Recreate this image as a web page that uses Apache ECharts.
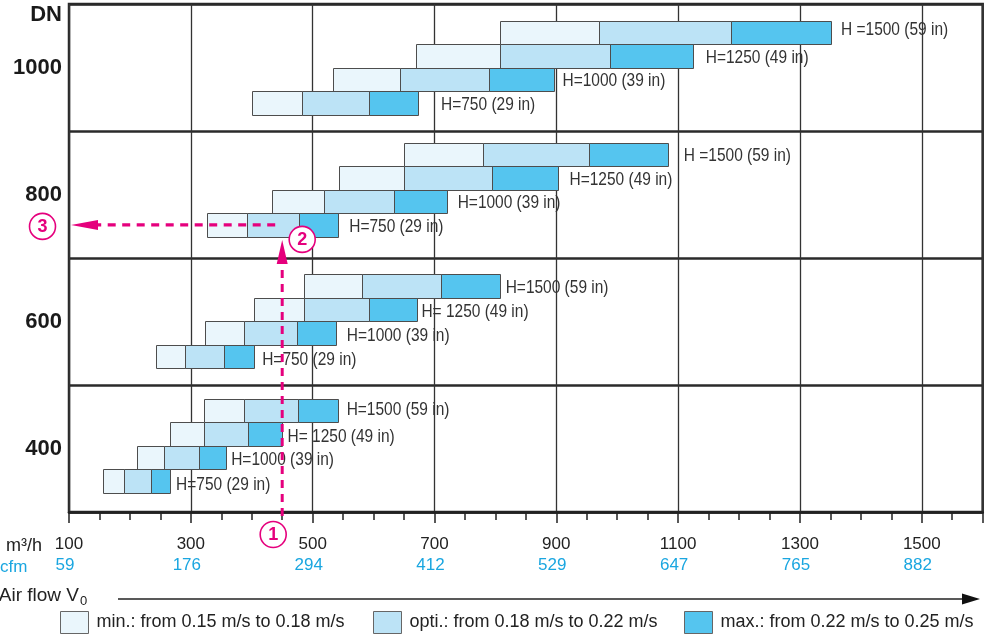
<!DOCTYPE html>
<html><head><meta charset="utf-8">
<script src="https://cdn.jsdelivr.net/npm/echarts@6/dist/echarts.min.js"></script>
<style>html,body{margin:0;padding:0;background:#fff;overflow:hidden}#c{width:990px;height:639px}</style>
</head><body><div id="c"></div>
<script>
// ---------- DATA (m3/h) ----------
// each row: [min from, min->opti, opti->max, max to]; rows ordered H=750, 1000, 1250, 1500
const dnCategories = ['400', '600', '800', '1000'];
const dn400  = [[156,190,234,266],[211,256,314,358],[266,321,394,449],[321,388,476,541]];
const dn600  = [[243,291,355,404],[323,388,474,538],[404,485,592,672],[485,581,710,807]];
const dn800  = [[326,392,477,542],[433,519,634,720],[543,650,795,902],[650,780,953,1083]];
const dn1000 = [[401,483,592,673],[534,644,789,897],[670,807,988,1124],[807,970,1187,1351]];
const labels400  = ['H=750 (29 in)', 'H=1000 (39 in)', 'H= 1250 (49 in)', 'H=1500 (59 in)'];
const labels600  = ['H=750 (29 in)', 'H=1000 (39 in)', 'H= 1250 (49 in)', 'H=1500 (59 in)'];
const labels800  = ['H=750 (29 in)', 'H=1000 (39 in)', 'H=1250 (49 in)', 'H =1500 (59 in)'];
const labels1000 = ['H=750 (29 in)', 'H=1000 (39 in)', 'H=1250 (49 in)', 'H =1500 (59 in)'];
const m3hTicks = [100, 300, 500, 700, 900, 1100, 1300, 1500];
const cfmTicks = [59, 176, 294, 412, 529, 647, 765, 882];
const legendNames = ['min.: from 0.15 m/s to 0.18 m/s', 'opti.: from 0.18 m/s to 0.22 m/s', 'max.: from 0.22 m/s to 0.25 m/s'];
const exampleFlow = 450;   // m3/h, worked example (1)
const exampleDN = 2;       // index of DN 800
const exampleRow = 0;      // H=750

// ---------- LAYOUT / STYLE ----------
const bandPad = [0.152, 0.131, 0.168, 0.128];
const rowH = 0.185;
const labelDx = [[6,5,6,9],[8,11,4,6],[11,11,12,16],[23,8,13,10]];
const labelDy = [[4,2.3,2.7,0],[3.8,2.7,2.5,1.5],[2,1.5,2.5,1.5],[2,1.5,2,-2]];
const segColors = ['#eaf6fc', '#bce3f6', '#55c5ef'];
const magenta = '#e5007d';
const blue = '#1aa6e0';
const reg = '"Liberation Sans",Arial,sans-serif';

const allRows = [dn400, dn600, dn800, dn1000];
const allLabels = [labels400, labels600, labels800, labels1000];

const segData = [[], [], []];
const labelData = [];
allRows.forEach((rows, b) => rows.forEach((r, i) => {
  for (let k = 0; k < 3; k++) segData[k].push([r[k], r[k + 1], b, i]);
  labelData.push([r[3], b, i]);
}));

function crisp(v) { return Math.round(v) + 0.5; }

function renderSeg(params, api) {
  const x0 = api.value(0), x1 = api.value(1), b = api.value(2), r = api.value(3);
  const yLo = b + bandPad[b] + r * rowH, yHi = yLo + rowH;
  const p0 = api.coord([x0, yHi]), p1 = api.coord([x1, yLo]);
  const X0 = crisp(p0[0]), Y0 = crisp(p0[1]), X1 = crisp(p1[0]), Y1 = crisp(p1[1]);
  return { type: 'rect', shape: { x: X0, y: Y0, width: X1 - X0, height: Y1 - Y0 },
    style: { fill: api.visual('color'), stroke: '#4d4d4d', lineWidth: 1 } };
}
function renderLabel(params, api) {
  const x = api.value(0), b = api.value(1), r = api.value(2);
  const yc = b + bandPad[b] + (r + 0.5) * rowH;
  const p = api.coord([x, yc]);
  return { type: 'text', x: p[0] + labelDx[b][r], y: p[1] + labelDy[b][r], scaleX: 0.86,
    style: { text: allLabels[b][r], fontSize: 18, fontFamily: reg, fill: '#333', align: 'left', verticalAlign: 'middle' } };
}

const chart = echarts.init(document.getElementById('c'), null, { renderer: 'canvas' });
const series = segData.map((d, k) => ({
  name: legendNames[k], type: 'custom', coordinateSystem: 'cartesian2d', xAxisIndex: 0, yAxisIndex: 0,
  renderItem: renderSeg, itemStyle: { color: segColors[k] }, encode: { x: [0, 1], y: 2 }, data: d, z: 3
}));
series.push({ name: 'labels', type: 'custom', coordinateSystem: 'cartesian2d', xAxisIndex: 0, yAxisIndex: 0,
  renderItem: renderLabel, encode: { x: 0, y: 1 }, data: labelData, z: 4, silent: true });

chart.setOption({
  animation: false,
  grid: { left: 69, right: 7.3, top: 4, bottom: 127, show: true, borderColor: '#2a2a2a', borderWidth: 2.5, backgroundColor: 'transparent' },
  legend: legendNames.map((n, i) => ({
    data: [n], left: [55, 368, 679][i], top: 606, itemWidth: 28, itemHeight: 22, icon: 'rect', selectedMode: false,
    itemStyle: { borderColor: '#666', borderWidth: 1 },
    textStyle: { fontSize: 18, color: '#222', fontFamily: reg, padding: [0, 0, 0, 3] }
  })),
  xAxis: [
    { type: 'value', min: 100, max: 1600, interval: 50, position: 'bottom',
      axisLine: { show: true, lineStyle: { color: '#222', width: 2.5 } },
      axisTick: { show: true, length: 8, lineStyle: { color: '#222', width: 1.5 } },
      axisLabel: { show: false }, splitLine: { show: false } },
    { type: 'value', min: 0, max: 1500, interval: 200, position: 'bottom',
      axisLine: { show: false },
      axisTick: { show: true, length: 11, lineStyle: { color: '#222', width: 1.5 } },
      splitLine: { show: true, lineStyle: { color: '#333', width: 1.3 } },
      axisLabel: { show: true, margin: 22, fontFamily: reg,
        formatter: v => { const i = Math.round(v / 200); if (v % 200 !== 0 || i >= m3hTicks.length) return ''; return '{a|' + m3hTicks[i] + '}\n{b|' + cfmTicks[i] + '}'; },
        rich: { a: { fontSize: 17, color: '#222', lineHeight: 21, fontFamily: reg, padding: [0, 0, 0, 0] },
                b: { fontSize: 17, color: blue, lineHeight: 21, fontFamily: reg, padding: [0, 8, 0, 0] } } } }
  ],
  yAxis: [
    { type: 'value', min: 0, max: 4, interval: 1, axisLine: { show: false }, axisTick: { show: false }, axisLabel: { show: false },
      splitLine: { show: true, lineStyle: { color: '#2a2a2a', width: 2.5 } } },
    { type: 'category', data: dnCategories, position: 'left', axisLine: { show: false }, axisTick: { show: false },
      splitLine: { show: false },
      axisLabel: { margin: 7, fontSize: 22, fontWeight: 'bold', color: '#1a1a1a', fontFamily: reg } }
  ],
  series: series
});

// ---------- annotations & static texts ----------
const ax = chart.convertToPixel({ xAxisIndex: 0 }, exampleFlow);
const ay = chart.convertToPixel({ yAxisIndex: 0 }, exampleDN + bandPad[exampleDN] + (exampleRow + 0.5) * rowH);
const dashV = { stroke: magenta, lineWidth: 3, lineDash: [8, 6] };
const circle = (cx, cy, t) => ([
  { type: 'circle', shape: { cx: cx, cy: cy, r: 13 }, style: { fill: '#fff', stroke: magenta, lineWidth: 1.6 }, z: 20 },
  { type: 'text', x: cx, y: cy + 1, style: { text: t, fontSize: 18, fontWeight: 'bold', fontFamily: reg, fill: magenta, align: 'center', verticalAlign: 'middle' }, z: 21 }
]);
chart.setOption({
  graphic: [
    { type: 'text', x: 62, y: 15, style: { text: 'DN', fontSize: 22, fontWeight: 'bold', fontFamily: reg, fill: '#1a1a1a', align: 'right', verticalAlign: 'middle' } },
    { type: 'text', x: 42, y: 546, style: { text: 'm³/h', fontSize: 18, fontFamily: reg, fill: '#222', align: 'right', verticalAlign: 'middle' } },
    { type: 'text', x: 0, y: 567.5, style: { text: 'cfm', fontSize: 17, fontFamily: reg, fill: blue, align: 'left', verticalAlign: 'middle' } },
    { type: 'text', x: 79, y: 596, style: { text: 'Air flow V', fontSize: 19, fontFamily: reg, fill: '#222', align: 'right', verticalAlign: 'middle' } },
    { type: 'text', x: 80, y: 601, style: { text: '0', fontSize: 13, fontFamily: reg, fill: '#222', align: 'left', verticalAlign: 'middle' } },
    { type: 'line', shape: { x1: 118, y1: 599, x2: 966, y2: 599 }, style: { stroke: '#222', lineWidth: 1.3 } },
    { type: 'polygon', shape: { points: [[962, 593.5], [980, 599], [962, 604.5]] }, style: { fill: '#111' } },
    // vertical dashed arrow
    { type: 'line', shape: { x1: ax, y1: 516, x2: ax, y2: 262 }, style: dashV, z: 15 },
    { type: 'polygon', shape: { points: [[ax - 5.5, 264], [ax, 240], [ax + 5.5, 264]] }, style: { fill: magenta }, z: 15 },
    // horizontal dashed arrow
    { type: 'line', shape: { x1: ax - 7, y1: ay, x2: 98, y2: ay }, style: { stroke: magenta, lineWidth: 3.3, lineDash: [8, 6.5] }, z: 15 },
    { type: 'polygon', shape: { points: [[98, ay - 5], [71, ay], [98, ay + 5]] }, style: { fill: magenta }, z: 15 },
    ...circle(ax - 9, 534.5, '1'),
    ...circle(ax + 20, ay + 14.5, '2'),
    ...circle(42.5, ay + 1.5, '3')
  ]
});
</script></body></html>
